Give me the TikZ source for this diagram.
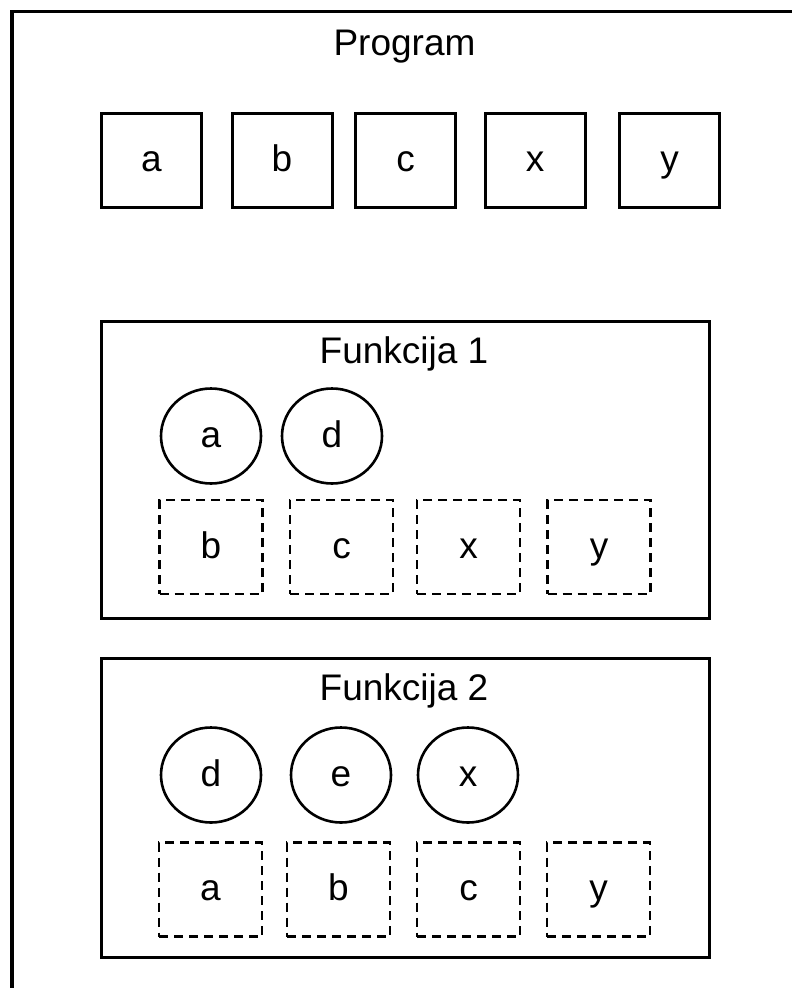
\documentclass[tikz,border=0pt]{standalone}
\usepackage{fontspec}
\setmainfont{Liberation Sans}
\usetikzlibrary{shapes.geometric}

\tikzset{
  lbl/.style={font=\fontsize{37}{40}\selectfont, text height=22pt, text depth=0pt, inner sep=0pt},
  title/.style={font=\fontsize{37}{40}\selectfont, inner sep=0pt, anchor=base},
  varbox/.style={lbl, draw, line width=3pt, rectangle, minimum width=100pt, minimum height=94pt},
  localvar/.style={lbl, draw, line width=2.6pt, ellipse, minimum width=100pt, minimum height=95pt},
  refvar/.style={lbl, draw, line width=2.6pt, dash pattern=on 9pt off 6pt, rectangle, minimum width=103pt, minimum height=94pt},
  frame/.style={draw, line width=3pt, rectangle, inner sep=0pt},
}

\begin{document}
\begin{tikzpicture}[x=1pt, y=-1pt]
\useasboundingbox (0,0) rectangle (792,988);

% outer program area, running past the page on the right and bottom
\draw[line width=3.2pt] (12,1010) -- (12,11.5) -- (820,11.5);
\node[title] (prog) at (404.5,55) {Program};

% global variables
\node[varbox] (ga) at (151.5,160) {a};
\node[varbox] (gb) at (282,160) {b};
\node[varbox] (gc) at (405.5,160) {c};
\node[varbox] (gx) at (535,160) {x};
\node[varbox] (gy) at (669.5,160) {y};

% function 1
\node[frame, minimum width=608pt, minimum height=297pt] (f1) at (405,470) {};
\node[title] (f1t) at (404,363) {Funkcija 1};
\node[localvar] (f1a) at (211,436) {a};
\node[localvar] (f1d) at (332,436) {d};
\node[refvar] (f1b) at (211,547) {b};
\node[refvar] (f1c) at (341.5,547) {c};
\node[refvar] (f1x) at (468.5,547) {x};
\node[refvar] (f1y) at (599,547) {y};

% function 2
\node[frame, minimum width=608pt, minimum height=299pt] (f2) at (405,807.5) {};
\node[title] (f2t) at (404,700) {Funkcija 2};
\node[localvar] (f2d) at (211,775) {d};
\node[localvar] (f2e) at (341,775) {e};
\node[localvar] (f2x) at (468,775) {x};
\node[refvar] (f2a) at (210.5,889.5) {a};
\node[refvar] (f2b) at (338.5,889.5) {b};
\node[refvar] (f2c) at (468.5,889.5) {c};
\node[refvar] (f2y) at (598.5,889.5) {y};
\end{tikzpicture}
\end{document}
